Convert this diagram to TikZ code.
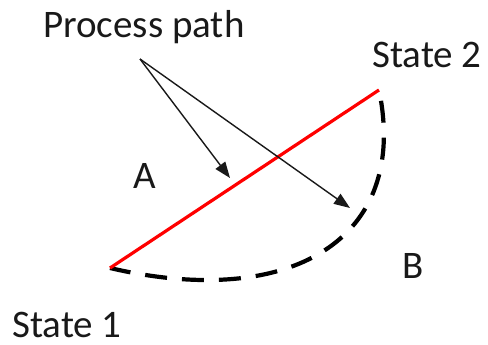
\documentclass[tikz,border=0pt]{standalone}
\usepackage{fontspec}
\setmainfont{Carlito}
\usetikzlibrary{arrows.meta}
\tikzset{
  lbl/.style={inner sep=0pt, anchor=base west, font=\fontsize{39}{41}\selectfont, text=black!90},
  pointer/.style={draw=black!90, line width=1.4pt, -{Triangle[length=16pt,width=12pt]}},
  direct/.style={draw=red, line width=3.2pt},
  curved/.style={draw=black, line width=4.2pt, dash pattern=on 22pt off 15pt, dash phase=26pt}
}
\begin{document}
\begin{tikzpicture}[x=1pt,y=-1pt]
\useasboundingbox (0,0) rectangle (488,345);
\coordinate (s1) at (110,268);
\coordinate (s2) at (379,90);
\coordinate (pp) at (140,59);
\coordinate (t1) at (230,178);
\coordinate (t2) at (350,208);
\node[lbl] (ptext) at (43,38) {Process path};
\node[lbl] (st2) at (372,68) {State 2};
\node[lbl] (st1) at (12,337) {State 1};
\node[lbl] (la) at (133,188) {A};
\node[lbl] (lb) at (402,278) {B};
\draw[curved] (s2) .. controls (410,240) and (290,310) .. (s1);
\draw[direct] (s1) -- (s2);
\draw[pointer] (pp) -- (t1);
\draw[pointer] (pp) -- (t2);
\end{tikzpicture}
\end{document}
